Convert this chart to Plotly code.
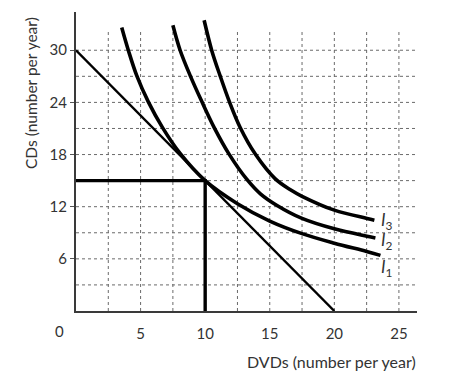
import plotly.graph_objects as go

# ---- data ----
i1_x = [3.54, 4.05, 4.71, 5.6, 6.7, 8.06, 10.0, 12.5, 15.0, 17.5, 20.0, 22.5, 23.57]
i1_y = [32.61, 30.0, 27.05, 24.06, 21.1, 18.13, 15.0, 12.35, 10.35, 8.9, 7.8, 6.85, 6.4]

i2_x = [7.50, 8.06, 8.85, 9.75, 10.7, 11.85, 13.2, 14.3, 15.5, 17.5, 20.0, 22.53, 23.18]
i2_y = [32.87, 30.0, 27.05, 24.06, 21.1, 18.05, 15.2, 13.45, 12.2, 10.65, 9.45, 8.6, 8.4]

i3_x = [9.92, 10.52, 11.16, 11.88, 12.71, 13.88, 15.43, 16.6, 17.5, 20.0, 22.53, 23.1]
i3_y = [33.45, 29.92, 27.05, 24.06, 21.11, 18.05, 15.2, 13.95, 13.2, 11.6, 10.65, 10.45]

budget_x = [0, 20]
budget_y = [30, 0]

best_x = 10
best_y = 15

x_ticks = [5, 10, 15, 20, 25]
y_ticks = [6, 12, 18, 24, 30]
x_grid = [2.5, 5, 7.5, 10, 12.5, 15, 17.5, 20, 22.5, 25]
y_grid = [3, 6, 9, 12, 15, 18, 21, 24, 27, 30]

curve_labels = ["<i>I</i><sub>1</sub>", "<i>I</i><sub>2</sub>", "<i>I</i><sub>3</sub>"]
label_y = [5.0, 8.0, 10.4]

X_MAX = 26.4
Y_MAX = 34.4
FONT = "Lato"
TXT = "#333333"

fig = go.Figure()

# budget line
fig.add_trace(go.Scatter(x=budget_x, y=budget_y, mode="lines",
                         line=dict(color="black", width=2.4), hoverinfo="skip"))
# projection lines to the best affordable point
fig.add_trace(go.Scatter(x=[0, best_x, best_x], y=[best_y, best_y, 0], mode="lines",
                         line=dict(color="black", width=3.4), hoverinfo="skip"))
# indifference curves
for cx, cy in [(i1_x, i1_y), (i2_x, i2_y), (i3_x, i3_y)]:
    fig.add_trace(go.Scatter(x=cx, y=cy, mode="lines",
                             line=dict(color="black", width=3.6, shape="spline", smoothing=1.0),
                             hoverinfo="skip"))

shapes = []
for gy in y_grid:
    shapes.append(dict(type="line", xref="x", yref="y", x0=0, x1=X_MAX, y0=gy, y1=gy,
                       line=dict(color="#6a6a6a", width=1, dash="dot"), layer="below"))
for gx in x_grid:
    shapes.append(dict(type="line", xref="x", yref="y", x0=gx, x1=gx, y0=0, y1=32.1,
                       line=dict(color="#6a6a6a", width=1, dash="dot"), layer="below"))

annotations = []
for lab, ly in zip(curve_labels, label_y):
    annotations.append(dict(x=24.1, y=ly, xref="x", yref="y", text=lab, showarrow=False,
                            font=dict(family=FONT, size=17, color=TXT), xanchor="center", yanchor="middle"))
annotations.append(dict(x=1.002, y=-0.169, xref="paper", yref="paper", text="DVDs (number per year)",
                        showarrow=False, xanchor="right", yanchor="middle",
                        font=dict(family=FONT, size=16, color=TXT)))
annotations.append(dict(x=-0.13, y=0.728, xref="paper", yref="paper", text="CDs (number per year)",
                        showarrow=False, textangle=-90, xanchor="center", yanchor="middle",
                        font=dict(family=FONT, size=15.5, color=TXT)))
annotations.append(dict(x=-0.047, y=-0.066, xref="paper", yref="paper", text="0", showarrow=False,
                        xanchor="center", yanchor="middle",
                        font=dict(family=FONT, size=15, color=TXT)))

fig.update_layout(
    width=470, height=373,
    margin=dict(l=76, r=53.4, t=11.7, b=62, pad=0),
    paper_bgcolor="white", plot_bgcolor="white",
    showlegend=False,
    shapes=shapes,
    annotations=annotations,
    xaxis=dict(range=[0, X_MAX], tickvals=x_ticks, ticktext=[str(v) for v in x_ticks],
               showgrid=False, zeroline=False, showline=True, linecolor="#3a3a3a", linewidth=2,
               ticks="", tickfont=dict(family=FONT, size=15, color=TXT), ticklabelstandoff=8,
               fixedrange=True),
    yaxis=dict(range=[0, Y_MAX], tickvals=y_ticks, ticktext=[str(v) for v in y_ticks],
               showgrid=False, zeroline=False, showline=True, linecolor="#3a3a3a", linewidth=2,
               ticks="outside", ticklen=4, tickcolor="#555555", tickwidth=1,
               tickfont=dict(family=FONT, size=15, color=TXT), ticklabelstandoff=0,
               fixedrange=True),
)

fig.write_html("out.html")
